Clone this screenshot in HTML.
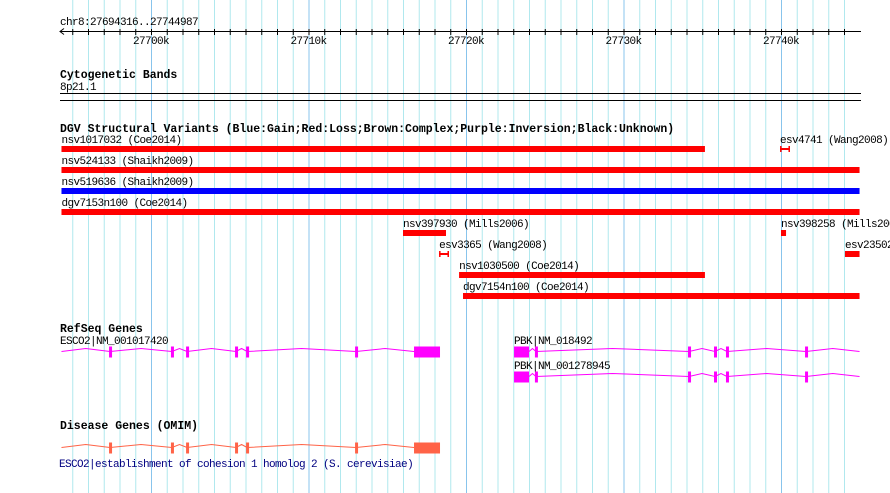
<!DOCTYPE html>
<html><head><meta charset="utf-8"><style>
body{margin:0;background:#fff;}
svg{display:block;font-family:"Liberation Mono",monospace;}
.t{font-size:11px;letter-spacing:-0.6px;fill:#000;}
.b{font-size:11.5px;font-weight:bold;fill:#000;}
</style></head><body>
<svg id="c" width="890" height="493">
<g id="grid"></g>
<g id="fg"></g>
</svg>
<script>
const viewStart = 27694.316, viewEnd = 27744.987;
const majorTicks = [27700, 27710, 27720, 27730, 27740];
const tickLabels = ["27700k","27710k","27720k","27730k","27740k"];
const svNames = ["nsv1017032 (Coe2014)","esv4741 (Wang2008)","nsv524133 (Shaikh2009)","nsv519636 (Shaikh2009)","dgv7153n100 (Coe2014)","nsv397930 (Mills2006)","nsv398258 (Mills2006)","esv3365 (Wang2008)","esv23502 (Coe2014)","nsv1030500 (Coe2014)","dgv7154n100 (Coe2014)"];
const svStarts = [27694.316,27739.94,27694.316,27694.316,27694.316,27716.0,27740.0,27718.29,27744.06,27719.56,27719.81];
const svEnds = [27735.17,27740.57,27744.987,27744.987,27744.987,27718.73,27740.32,27718.92,27744.987,27735.17,27744.987];
const svTypes = ["loss","small","loss","gain","loss","loss","loss","small","loss","loss","loss"];
const svRows = [0,0,1,2,3,4,4,5,5,6,7];
const escoStart = 27694.316, escoBox = [27716.70, 27718.35];
const escoExons = [27697.40,27701.33,27702.29,27705.40,27706.10,27713.02];
const pbkBox = [27723.05, 27724.0], pbkEnd = 27744.987;
const pbkExons = [27724.44,27734.16,27735.81,27736.57,27741.59];

const NS="http://www.w3.org/2000/svg";
const x = kb => 151 + (kb - 27700) * 15.75;
const grid=document.getElementById('grid'), fg=document.getElementById('fg');
function mk(tag, attrs, parent, name){const e=document.createElementNS(NS,tag);for(const k in attrs)e.setAttribute(k,attrs[k]);


parent.appendChild(e);return e;}
function txt(s,xx,yy,cls,parent,name,fill){const e=mk('text',{x:xx,y:yy,class:cls},parent,name);if(fill)e.style.fill=fill;e.textContent=s;return e;}

for(let k=Math.ceil(viewStart);k<=viewEnd;k++){
  const major=majorTicks.includes(k);
  mk('line',{x1:x(k)+.5,x2:x(k)+.5,y1:0,y2:493,stroke:major?'#88c4ec':'#b0e8ee','stroke-width':1},grid,major?'major-grid-line':'minor-grid-line');
  mk('line',{x1:x(k)+.5,x2:x(k)+.5,y1:29,y2:35,stroke:'#000'},fg,'ruler-tick');
}
txt('chr8:27694316..27744987',60,25,'t',fg,'region-label');
mk('line',{x1:60,x2:861,y1:31.5,y2:31.5,stroke:'#000'},fg,'ruler-axis');
mk('polyline',{points:'64,28.5 60,31.5 64,34.5',fill:'none',stroke:'#000'},fg,'ruler-arrow');
majorTicks.forEach((k,i)=>txt(tickLabels[i],x(k)-18,44,'t',fg,'tick-label'));

txt('Cytogenetic Bands',60,78,'b',fg,'cytoband-title');
txt('8p21.1',60,90,'t',fg,'cytoband-label');
mk('line',{x1:60,x2:861,y1:93.5,y2:93.5,stroke:'#000'},fg,'cytoband-line');
mk('line',{x1:60,x2:861,y1:100.5,y2:100.5,stroke:'#000'},fg,'cytoband-line');

txt('DGV Structural Variants (Blue:Gain;Red:Loss;Brown:Complex;Purple:Inversion;Black:Unknown)',60,132,'b',fg,'dgv-title');
svNames.forEach((n,i)=>{
  const y0=146+svRows[i]*21, x1=x(svStarts[i]), x2=x(svEnds[i]);
  txt(n,x1,y0-3,'t',fg,'sv-label');
  if(svTypes[i]==='small'){
    mk('rect',{x:x1,y:y0+2,width:x2-x1,height:2,fill:'#f00'},fg,'sv-bar');
    mk('rect',{x:x1,y:y0,width:1.5,height:6,fill:'#f00'},fg,'sv-bar-cap');
    mk('rect',{x:x2-1.5,y:y0,width:1.5,height:6,fill:'#f00'},fg,'sv-bar-cap');
  } else {
    mk('rect',{x:x1,y:y0,width:x2-x1,height:6,fill:svTypes[i]==='gain'?'#00f':'#f00'},fg,'sv-bar');
  }
});

function gene(yc,start,exons,box,end,color,name,boxFirst){
  let stops;
  if(!boxFirst){stops=[start,...exons,box[0]];}
  else{stops=[box[1],...exons,end];}
  let line=[];
  for(let i=0;i<stops.length-1;i++){
    const a=x(stops[i]),b=x(stops[i+1]);
    line.push(a+','+yc,((a+b)/2)+','+(yc-3),b+','+yc);
  }
  mk('polyline',{points:line.join(' '),fill:'none',stroke:color,'stroke-width':1},fg,name+'-intron');
  exons.forEach(e=>mk('rect',{x:x(e)-1,y:yc-5,width:3,height:11,fill:color},fg,name+'-exon'));
  mk('rect',{x:x(box[0]),y:yc-5,width:x(box[1])-x(box[0]),height:11,fill:color},fg,name+'-exon-box');
}
txt('RefSeq Genes',60,332,'b',fg,'refseq-title');
txt('ESCO2|NM_001017420',60,344,'t',fg,'esco2-label');
gene(351.5,escoStart,escoExons,escoBox,null,'#f0f','esco2',false);
txt('PBK|NM_018492',x(pbkBox[0]),344,'t',fg,'pbk-label');
gene(351.5,null,pbkExons,pbkBox,pbkEnd,'#f0f','pbk1',true);
txt('PBK|NM_001278945',x(pbkBox[0]),369,'t',fg,'pbk-label');
gene(376.5,null,pbkExons,pbkBox,pbkEnd,'#f0f','pbk2',true);

txt('Disease Genes (OMIM)',60,429,'b',fg,'omim-title');
gene(447.5,escoStart,escoExons,escoBox,null,'#ff6347','omim-esco2',false);
txt('ESCO2|establishment of cohesion 1 homolog 2 (S. cerevisiae)',59,467,'t',fg,'omim-label','#000080');
</script>
</body></html>
